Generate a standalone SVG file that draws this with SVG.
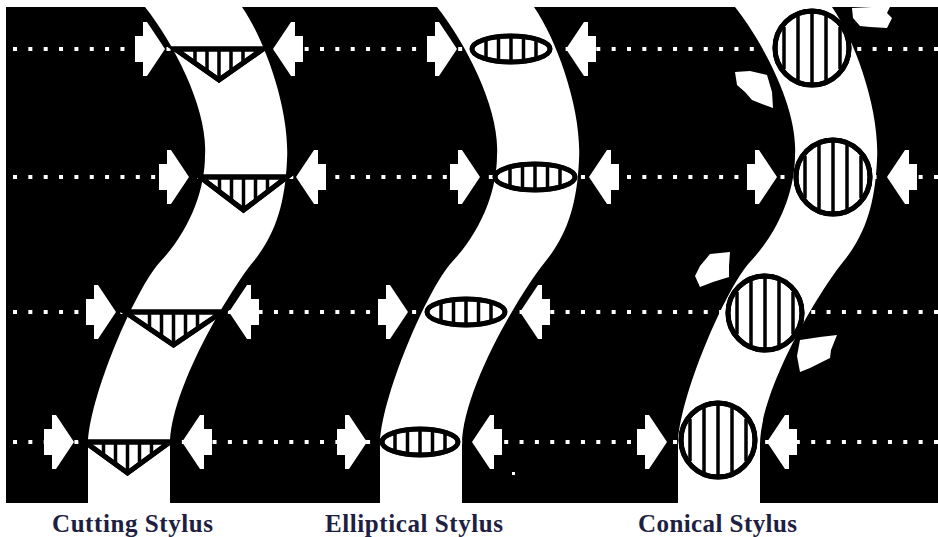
<svg xmlns="http://www.w3.org/2000/svg" width="938" height="537" viewBox="0 0 938 537">
  <defs>
    <style>
      .groove { fill: #fff; }
      .dots { stroke: #fff; stroke-width: 4; stroke-dasharray: 4 11.35; }
      .arrow { fill: #fff; }
      .tip { fill: #fff; stroke: #000; stroke-width: 5; stroke-linejoin: miter; }
      .hatch { stroke: #000; stroke-width: 3.5; }
      .frag { fill: #fff; }
      .label { font-family: "Liberation Serif", "Times New Roman", serif; font-weight: bold; font-size: 25px; fill: #1d2040; }
    </style>
    <!-- S-shaped record groove, drawn once and shifted per column -->
    <path id="groovePath" d="M145,7 C175,45 208,110 205,155 C205,190 190,230 160,262 C135,289 88,400 88,445 L88,503 L170,503 L170,445 C170,390 228,293 253,262 C275,235 285,205 287,160 C290,110 265,40 242,7 Z"/>
    <!-- force arrow, tip at the origin, pointing right -->
    <polygon id="arr" points="-30,-13 -22,-13 -22,-27 -18,-27 0,0 -18,27 -22,27 -22,13 -30,13"/>
  </defs>

  <!-- black field -->
  <rect x="6" y="7" width="932" height="496" fill="#000"/>

  <!-- grooves -->
  <g id="grooves">
    <use href="#groovePath" class="groove"/>
    <use href="#groovePath" class="groove" transform="translate(292,0)"/>
    <use href="#groovePath" class="groove" transform="translate(590,0)"/>
  </g>

  <!-- dotted reference lines -->
  <g id="connectors">
    <line class="dots" x1="13" y1="49" x2="938" y2="49"/>
    <line class="dots" x1="13" y1="177" x2="938" y2="177"/>
    <line class="dots" x1="13" y1="312" x2="938" y2="312"/>
    <line class="dots" x1="13" y1="442" x2="938" y2="442"/>
  </g>

  <!-- cutting stylus column -->
  <g id="cutting">
    <use href="#arr" class="arrow" transform="translate(165,49)"/>
    <use href="#arr" class="arrow" transform="translate(273,49) scale(-1,1)"/>
    <use href="#arr" class="arrow" transform="translate(189,177)"/>
    <use href="#arr" class="arrow" transform="translate(296,177) scale(-1,1)"/>
    <use href="#arr" class="arrow" transform="translate(116,312)"/>
    <use href="#arr" class="arrow" transform="translate(229,312) scale(-1,1)"/>
    <use href="#arr" class="arrow" transform="translate(74,442)"/>
    <use href="#arr" class="arrow" transform="translate(182,442) scale(-1,1)"/>

    <g id="cut1">
      <polygon class="tip" points="175,49 263,49 219,80"/>
      <path class="hatch" d="M195,49V62.4 M207,49V71.2 M219,49V80 M231,49V71.2 M243,49V62.4"/>
      <polygon points="175,49 263,49 219,80" fill="none" stroke="#000" stroke-width="5"/>
    </g>
    <g id="cut2">
      <polygon class="tip" points="200,177 287,177 243.5,210"/>
      <path class="hatch" d="M219.5,177V191.8 M231.5,177V200.9 M243.5,177V210 M255.5,177V200.9 M267.5,177V191.8"/>
      <polygon points="200,177 287,177 243.5,210" fill="none" stroke="#000" stroke-width="5"/>
    </g>
    <g id="cut3">
      <polygon class="tip" points="125,312 222,312 173.5,345"/>
      <path class="hatch" d="M149.5,312V328.7 M161.5,312V336.8 M173.5,312V345 M185.5,312V336.8 M197.5,312V328.7"/>
      <polygon points="125,312 222,312 173.5,345" fill="none" stroke="#000" stroke-width="5"/>
    </g>
    <g id="cut4">
      <polygon class="tip" points="85,442 170,442 127.5,473"/>
      <path class="hatch" d="M103.5,442V455.5 M115.5,442V464.2 M127.5,442V473 M139.5,442V464.2 M151.5,442V455.5"/>
      <polygon points="85,442 170,442 127.5,473" fill="none" stroke="#000" stroke-width="5"/>
    </g>
  </g>

  <!-- elliptical stylus column -->
  <g id="elliptical">
    <use href="#arr" class="arrow" transform="translate(457,49)"/>
    <use href="#arr" class="arrow" transform="translate(566,49) scale(-1,1)"/>
    <use href="#arr" class="arrow" transform="translate(480,177)"/>
    <use href="#arr" class="arrow" transform="translate(589,177) scale(-1,1)"/>
    <use href="#arr" class="arrow" transform="translate(408,312)"/>
    <use href="#arr" class="arrow" transform="translate(520,312) scale(-1,1)"/>
    <use href="#arr" class="arrow" transform="translate(367,442)"/>
    <use href="#arr" class="arrow" transform="translate(472,442) scale(-1,1)"/>

    <g id="ell1" transform="translate(511,49)">
      <ellipse class="tip" rx="39" ry="13"/>
      <path class="hatch" d="M-25,-10V10 M-12.5,-12.3V12.3 M0,-13V13 M12.5,-12.3V12.3 M25,-10V10"/>
      <ellipse rx="39" ry="13" fill="none" stroke="#000" stroke-width="4.5"/>
    </g>
    <g id="ell2" transform="translate(535,177)">
      <ellipse class="tip" rx="40" ry="13"/>
      <path class="hatch" d="M-25,-10V10 M-12.5,-12.3V12.3 M0,-13V13 M12.5,-12.3V12.3 M25,-10V10"/>
      <ellipse rx="40" ry="13" fill="none" stroke="#000" stroke-width="4.5"/>
    </g>
    <g id="ell3" transform="translate(466,312)">
      <ellipse class="tip" rx="39" ry="13"/>
      <path class="hatch" d="M-25,-10V10 M-12.5,-12.3V12.3 M0,-13V13 M12.5,-12.3V12.3 M25,-10V10"/>
      <ellipse rx="39" ry="13" fill="none" stroke="#000" stroke-width="4.5"/>
    </g>
    <g id="ell4" transform="translate(420,442)">
      <ellipse class="tip" rx="38" ry="13"/>
      <path class="hatch" d="M-25,-10V10 M-12.5,-12.3V12.3 M0,-13V13 M12.5,-12.3V12.3 M25,-10V10"/>
      <ellipse rx="38" ry="13" fill="none" stroke="#000" stroke-width="4.5"/>
    </g>
    <rect x="512" y="472" width="3" height="3" fill="#fff"/>
  </g>

  <!-- conical stylus column -->
  <g id="conical">
    <use href="#arr" class="arrow" transform="translate(777,177)"/>
    <use href="#arr" class="arrow" transform="translate(887,177) scale(-1,1)"/>
    <use href="#arr" class="arrow" transform="translate(667,442)"/>
    <use href="#arr" class="arrow" transform="translate(767,442) scale(-1,1)"/>

    <!-- broken arrow pieces -->
    <polygon class="frag" points="735,72 750,71 767,75 772,92 773,108 762,104 752,100 745,92 737,85"/>
    <polygon class="frag" points="852,8 872,7 890,7 887,13 892,18 887,28 870,27 860,26 853,18"/>
    <polygon class="frag" points="710,254 730,252 729,266 729,277 713,282 700,287 695,276 700,266"/>
    <polygon class="frag" points="800,340 820,337 837,335 831,350 830,358 822,362 810,368 800,372 797,356"/>

    <g id="con1" transform="translate(812,48)">
      <circle class="tip" r="37"/>
      <path class="hatch" d="M-28,-21V21 M-14,-32V32 M0,-35V35 M14,-32V32 M28,-21V21"/>
      <circle r="37" fill="none" stroke="#000" stroke-width="5"/>
    </g>
    <g id="con2" transform="translate(833,177)">
      <circle class="tip" r="37"/>
      <path class="hatch" d="M-28,-21V21 M-14,-32V32 M0,-35V35 M14,-32V32 M28,-21V21"/>
      <circle r="37" fill="none" stroke="#000" stroke-width="5"/>
    </g>
    <g id="con3" transform="translate(765,313)">
      <circle class="tip" r="37"/>
      <path class="hatch" d="M-28,-21V21 M-14,-32V32 M0,-35V35 M14,-32V32 M28,-21V21"/>
      <circle r="37" fill="none" stroke="#000" stroke-width="5"/>
    </g>
    <g id="con4" transform="translate(718,440)">
      <circle class="tip" r="37"/>
      <path class="hatch" d="M-28,-21V21 M-14,-32V32 M0,-35V35 M14,-32V32 M28,-21V21"/>
      <circle r="37" fill="none" stroke="#000" stroke-width="5"/>
    </g>
  </g>

  <!-- captions -->
  <g id="captions">
    <text class="label" x="52" y="532" textLength="161" lengthAdjust="spacing">Cutting Stylus</text>
    <text class="label" x="325" y="532" textLength="178" lengthAdjust="spacing">Elliptical Stylus</text>
    <text class="label" x="638" y="532" textLength="159" lengthAdjust="spacing">Conical Stylus</text>
  </g>
</svg>
